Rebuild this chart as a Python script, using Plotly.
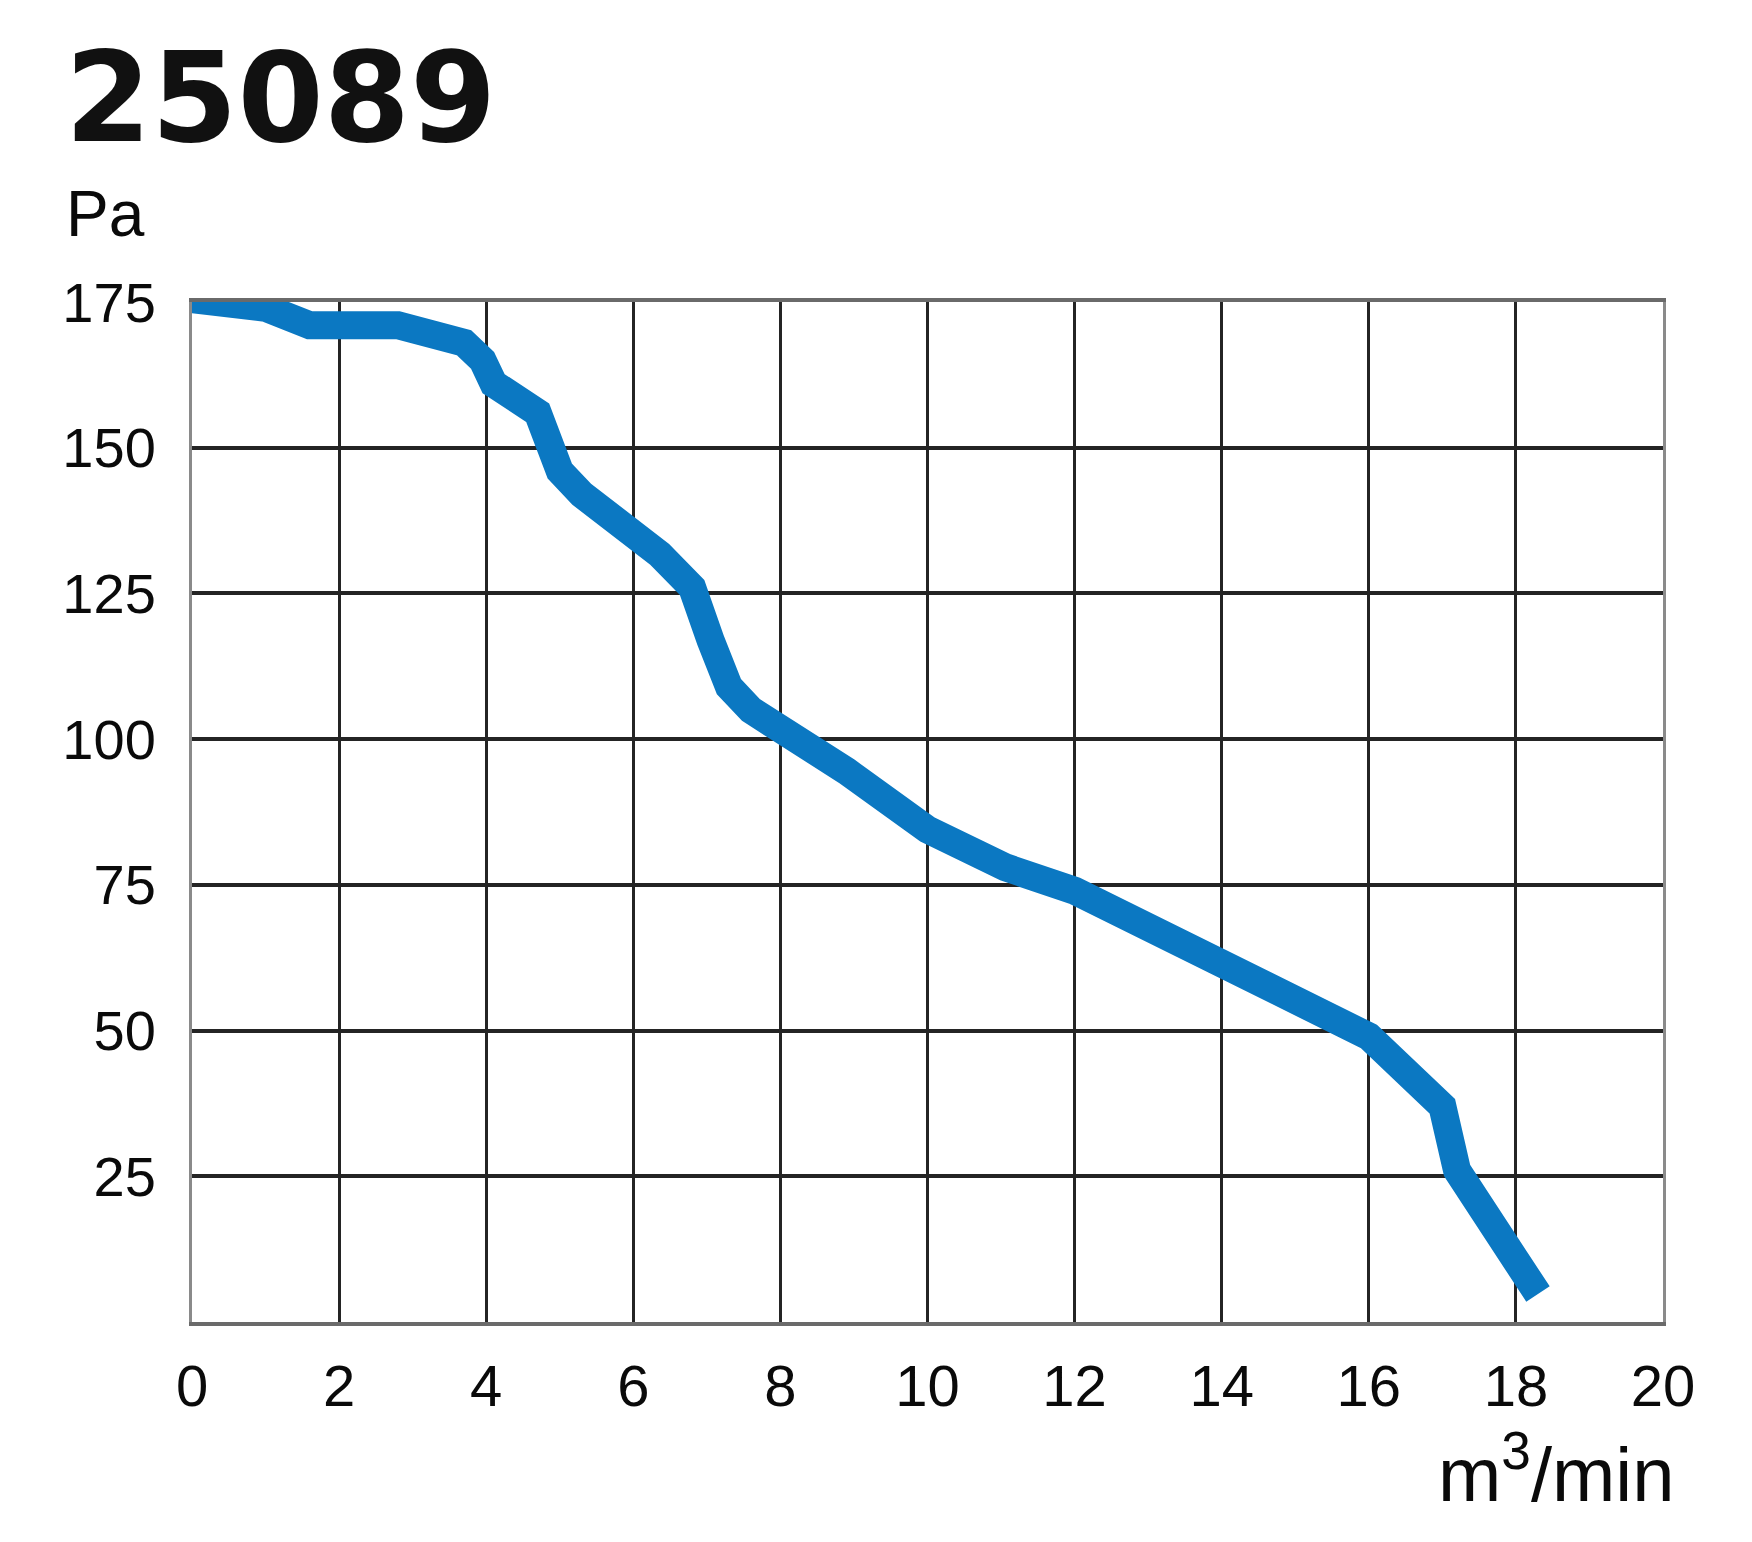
import plotly.graph_objects as go

# Fan curve data (flow m3/min vs static pressure Pa)
flow = [0.0, 1.0, 1.6, 2.8, 3.7, 3.95, 4.1, 4.7, 5.0, 5.3, 6.36, 6.8, 7.05, 7.3,
        7.6, 8.0, 8.9, 10.0, 11.06, 12.0, 14.0, 15.6, 16.0, 17.0, 17.2, 18.3]
pressure = [175.5, 174.0, 171.0, 171.0, 168.0, 165.0, 161.0, 156.0, 146.0, 142.0,
            131.7, 126.0, 117.0, 109.0, 105.0, 102.0, 94.5, 84.5, 78.0, 74.0,
            62.0, 52.0, 49.0, 37.0, 26.0, 4.8]

x_ticks = [0, 2, 4, 6, 8, 10, 12, 14, 16, 18, 20]
y_ticks = [25, 50, 75, 100, 125, 150, 175]

title_text = "25089"
y_unit = "Pa"
x_unit = "m<sup>3</sup>/min"

W, H = 1752, 1542
L, R, T, B = 184, 1655, 294, 1314

fig = go.Figure()
fig.add_trace(go.Scatter(
    x=flow, y=pressure, mode="lines",
    line=dict(color="#0b78c2", width=28),
    hoverinfo="skip", showlegend=False, cliponaxis=False,
))

fig.update_layout(
    width=W, height=H,
    margin=dict(l=L, r=W - R, t=T, b=H - B, pad=0),
    paper_bgcolor="white", plot_bgcolor="white",
    font=dict(family="Liberation Sans, Arial, sans-serif", color="#0a0a0a"),
    title=dict(text=title_text, x=57 / W, xanchor="left", xref="container",
               y=1 - 46 / H, yanchor="top",
               font=dict(family="DejaVu Sans", size=124, color="#111111", weight="bold")),
    xaxis=dict(range=[0, 20], tickvals=x_ticks, ticktext=[str(v) for v in x_ticks],
               showgrid=True, gridcolor="#242424", gridwidth=2.5,
               showline=True, linecolor="#6a6a6a", linewidth=4, mirror=True,
               zeroline=False, ticks="", ticklabelstandoff=10,
               tickfont=dict(size=58, color="#0a0a0a")),
    yaxis=dict(range=[0, 175], tickvals=y_ticks, ticktext=[str(v) for v in y_ticks],
               showgrid=True, gridcolor="#242424", gridwidth=3.5,
               showline=True, linecolor="#8a8a8a", linewidth=3, mirror=True,
               zeroline=False, ticks="", ticklabelstandoff=22,
               tickfont=dict(size=56, color="#0a0a0a")),
)

fig.add_annotation(text=y_unit, xref="paper", yref="paper",
                   x=(56 - L) / (R - L), y=(B - 206) / (B - T),
                   xanchor="left", yanchor="middle", showarrow=False,
                   font=dict(size=64, color="#0a0a0a"))
fig.add_annotation(text=x_unit, xref="paper", yref="paper",
                   x=(1668 - L) / (R - L), y=(B - 1461) / (B - T),
                   xanchor="right", yanchor="middle", showarrow=False,
                   font=dict(size=76, color="#0a0a0a"))

fig.write_html("out.html")
